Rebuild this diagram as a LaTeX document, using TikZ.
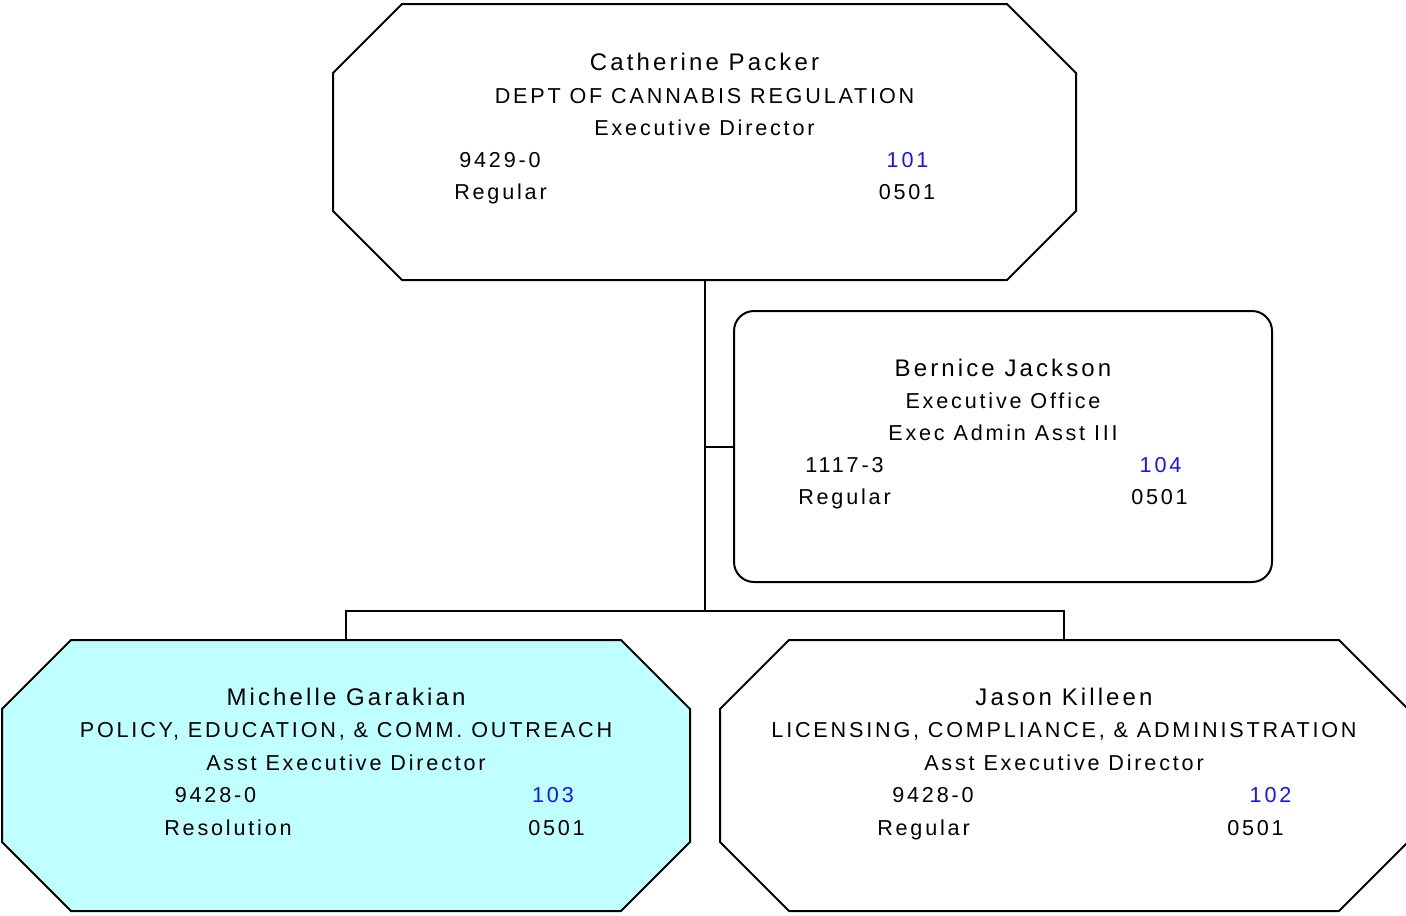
\documentclass[tikz,border=0pt]{standalone}
\usepackage{fontspec}
\setmainfont[LetterSpace=13]{Liberation Sans}
\usetikzlibrary{calc}
\definecolor{lightcyan}{RGB}{192,255,255}
\definecolor{numblue}{RGB}{20,20,255}
\tikzset{
  holder/.style={draw=none,rectangle,inner sep=0pt,outer sep=0pt},
  octo/.style={draw=black,line width=1.5pt,line join=miter},
  roundbox/.style={draw=black,line width=1.5pt,rectangle,rounded corners=15pt,inner sep=0pt,outer sep=0pt},
  conn/.style={draw=black,line width=1.5pt},
  nametext/.style={anchor=base,inner sep=0pt,font=\fontsize{18}{20}\selectfont},
  linetext/.style={anchor=base,inner sep=0pt,font=\fontsize{16.2}{18}\selectfont},
  numtext/.style={linetext,text=numblue},
}
\newcommand{\octagon}[3][white]{%
  \fill[#1] ($(#2.north west)+(#3,0)$) -- ($(#2.north east)+(-#3,0)$) -- ($(#2.north east)+(0,#3)$) -- ($(#2.south east)+(0,-#3)$) -- ($(#2.south east)+(-#3,0)$) -- ($(#2.south west)+(#3,0)$) -- ($(#2.south west)+(0,-#3)$) -- ($(#2.north west)+(0,#3)$) -- cycle;
  \draw[octo] ($(#2.north west)+(#3,0)$) -- ($(#2.north east)+(-#3,0)$) -- ($(#2.north east)+(0,#3)$) -- ($(#2.south east)+(0,-#3)$) -- ($(#2.south east)+(-#3,0)$) -- ($(#2.south west)+(#3,0)$) -- ($(#2.south west)+(0,-#3)$) -- ($(#2.north west)+(0,#3)$) -- cycle;}
\begin{document}
\begin{tikzpicture}[x=0.75pt,y=-0.75pt]
\useasboundingbox (0,0) rectangle (1406,915);
% box holders
\node[holder,minimum width=743*0.75pt,minimum height=276*0.75pt] (top) at (704.5,142) {};
\node[roundbox,minimum width=538*0.75pt,minimum height=271*0.75pt] (bernice) at (1003,446.5) {};
\node[holder,minimum width=688*0.75pt,minimum height=271*0.75pt] (michelle) at (346,775.5) {};
\node[holder,minimum width=688*0.75pt,minimum height=271*0.75pt] (jason) at (1064,775.5) {};
\octagon{top}{69}
\octagon[lightcyan]{michelle}{69}
\octagon{jason}{69}
% connectors
\coordinate (bus) at (704.5,611);
\draw[conn] (top.south) -- (bus);
\draw[conn] (michelle.north) |- (bus) -| (jason.north);
\draw[conn] (bernice.west) -- (bernice.west -| top.south);
% top texts
\node[nametext] (t1) at (704.5,70) {Catherine Packer};
\node[linetext] (t2) at (704.5,103) {DEPT OF CANNABIS REGULATION};
\node[linetext] (t3) at (704.5,135) {Executive Director};
\node[linetext] (t4) at (500,167.5) {9429-0};
\node[numtext] (t5) at (907.5,167.5) {101};
\node[linetext] (t6) at (500.5,199.5) {Regular};
\node[linetext] (t7) at (907,199.5) {0501};
% bernice texts
\node[nametext] (b1) at (1003,376) {Bernice Jackson};
\node[linetext] (b2) at (1003,408.5) {Executive Office};
\node[linetext] (b3) at (1003,440.5) {Exec Admin Asst III};
\node[linetext] (b4) at (844.5,472.5) {1117-3};
\node[numtext] (b5) at (1160.5,472.5) {104};
\node[linetext] (b6) at (844.5,504) {Regular};
\node[linetext] (b7) at (1159.5,504) {0501};
% michelle texts
\node[nametext] (m1) at (346,705) {Michelle Garakian};
\node[linetext] (m2) at (346,737.5) {POLICY, EDUCATION, \& COMM. OUTREACH};
\node[linetext] (m3) at (346,770) {Asst Executive Director};
\node[linetext] (m4) at (215.5,802.5) {9428-0};
\node[numtext] (m5) at (553,802.5) {103};
\node[linetext] (m6) at (228,835) {Resolution};
\node[linetext] (m7) at (556.5,835) {0501};
% jason texts
\node[nametext] (j1) at (1064,705) {Jason Killeen};
\node[linetext] (j2) at (1064,737.5) {LICENSING, COMPLIANCE, \& ADMINISTRATION};
\node[linetext] (j3) at (1064,770) {Asst Executive Director};
\node[linetext] (j4) at (933,802.5) {9428-0};
\node[numtext] (j5) at (1270.5,802.5) {102};
\node[linetext] (j6) at (923.5,835) {Regular};
\node[linetext] (j7) at (1255.5,835) {0501};
\end{tikzpicture}
\end{document}
